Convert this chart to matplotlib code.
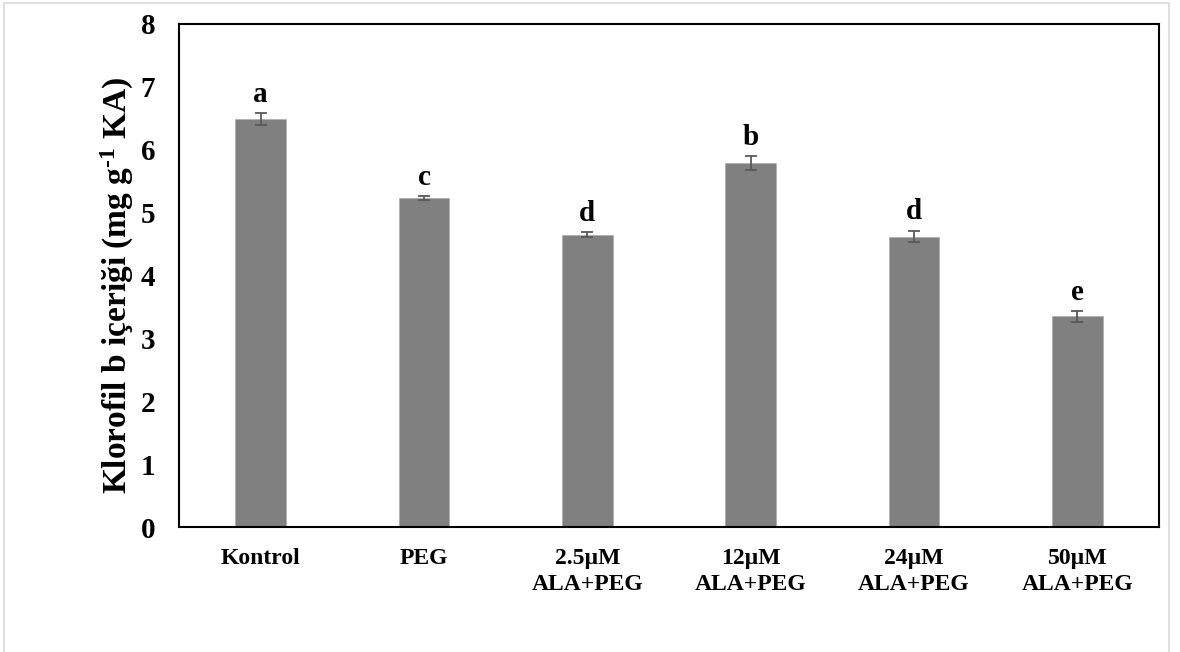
import numpy as np
import matplotlib.pyplot as plt
from matplotlib.patches import Rectangle

plt.rcParams["font.family"] = ["Liberation Serif", "DejaVu Serif"]
plt.rcParams["font.weight"] = "bold"
plt.rcParams["mathtext.fontset"] = "custom"
plt.rcParams["mathtext.rm"] = "Liberation Serif:bold"
plt.rcParams["mathtext.bf"] = "Liberation Serif:bold"
plt.rcParams["mathtext.default"] = "rm"

# data
categories = ["Kontrol", "PEG", "2.5µM\nALA+PEG", "12µM\nALA+PEG",
              "24µM\nALA+PEG", "50µM\nALA+PEG"]
values = [6.49, 5.23, 4.65, 5.79, 4.62, 3.35]
errors = [0.09, 0.03, 0.045, 0.11, 0.095, 0.09]
letters = ["a", "c", "d", "b", "d", "e"]


def main():
    fig = plt.figure(figsize=(11.8, 6.52), dpi=100)
    ax = fig.add_axes([0.1517, 0.1917, 0.8305, 0.7715])

    # light frame around the whole picture
    fig.patches.append(Rectangle((0.003, -0.01), 0.988, 1.005,
                                 transform=fig.transFigure, fill=False,
                                 edgecolor="#d9d9d9", linewidth=1.2))

    x = np.arange(len(categories))
    ax.bar(x, values, width=0.31, color="#808080", edgecolor="#b0b0b0",
           linewidth=0.6, zorder=2)
    ax.errorbar(x, values, yerr=errors, fmt="none", ecolor="#595959",
                elinewidth=1.3, capsize=4.5, capthick=1.3, zorder=3)

    for xi, v, e, lab in zip(x, values, errors, letters):
        ax.annotate(lab, (xi, v + e), xytext=(0, 8), textcoords="offset points",
                    ha="center", va="baseline", fontsize=21, fontweight="bold")

    ax.set_xlim(-0.5, len(categories) - 0.5)
    ax.set_ylim(0, 8)
    ax.set_yticks(range(0, 9))
    ax.set_xticks(x)
    ax.set_xticklabels(categories, fontsize=17, fontweight="bold",
                       linespacing=1.3)
    ax.tick_params(axis="both", length=0)
    ax.tick_params(axis="y", labelsize=21, pad=17)
    ax.tick_params(axis="x", pad=15)
    for sp in ax.spines.values():
        sp.set_linewidth(1.5)
        sp.set_color("black")

    fig.text(117 / 1180, 1 - 286 / 652,
             r"Klorofil b içeriği (mg g$^{\text{-1}}$ KA)", fontsize=24,
             fontweight="bold", rotation=90, ha="center", va="center")

    fig.savefig("out.png", dpi=100)


if __name__ == "__main__":
    main()
